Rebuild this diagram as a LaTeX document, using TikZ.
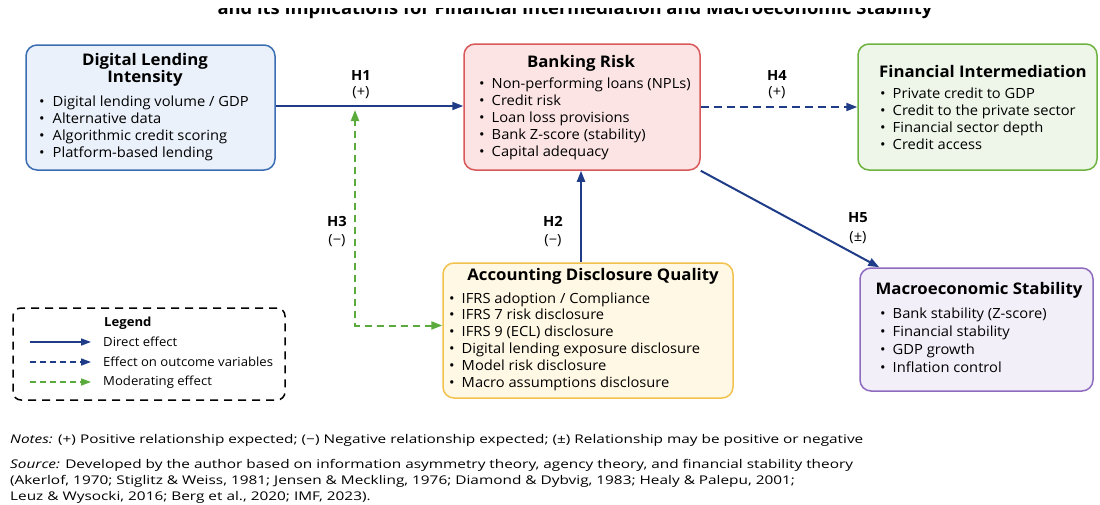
\documentclass[tikz,border=0pt]{standalone}
\usepackage{fontspec}
\setmainfont{Open Sans}[FakeStretch=1.05]
\newfontfamily\notefont{Open Sans}[FakeStretch=1.28]
\usetikzlibrary{arrows.meta,positioning,calc}
\definecolor{navy}{HTML}{1F3C88}
\definecolor{mgreen}{HTML}{5AAA3C}
\definecolor{dlifill}{HTML}{EAF1FB}
\definecolor{dliline}{HTML}{3B6DB3}
\definecolor{brfill}{HTML}{FCE4E4}
\definecolor{brline}{HTML}{D9585A}
\definecolor{fifill}{HTML}{EDF6E8}
\definecolor{filine}{HTML}{6DB33F}
\definecolor{adqfill}{HTML}{FFF8E4}
\definecolor{adqline}{HTML}{F2C14E}
\definecolor{msfill}{HTML}{F2EFF9}
\definecolor{msline}{HTML}{8E6BBF}
\tikzstyle{box}=[draw, rounded corners=11pt, line width=1.5pt, inner sep=0pt]
\tikzstyle{head}=[font=\fontsize{16}{17}\selectfont\bfseries, align=center, inner sep=0pt]
\tikzstyle{item}=[font=\fontsize{14}{16}\selectfont, anchor=base west, inner sep=0pt]
\tikzstyle{hyp}=[font=\fontsize{14}{16}\selectfont\bfseries, inner sep=0pt]
\tikzstyle{sign}=[font=\fontsize{14}{16}\selectfont, inner sep=0pt]
\tikzstyle{direct}=[line width=2pt, draw=navy, -{Triangle[length=11pt,width=8pt]}]
\tikzstyle{outcome}=[direct, dash pattern=on 8pt off 5pt]
\tikzstyle{moder}=[line width=2pt, draw=mgreen, dash pattern=on 7pt off 5pt, {Triangle[length=11pt,width=8pt]}-{Triangle[length=11pt,width=8pt]}]
\tikzstyle{legtext}=[font=\fontsize{12.5}{14}\selectfont, anchor=west, inner sep=0pt]
\tikzstyle{note}=[font=\notefont\fontsize{12}{14}\selectfont, anchor=base west, inner sep=0pt]

\begin{document}
\begin{tikzpicture}[x=1pt,y=-1pt]
    \useasboundingbox[fill=white] (0,0) rectangle (1100,504);

    % cut-off title
    \begin{scope}
        \clip (0,8) rectangle (1100,20);
        \node[font=\fontsize{17.5}{19}\selectfont\bfseries, anchor=base, inner sep=0pt] (title) at (575,14)
            {and its Implications for Financial Intermediation and Macroeconomic Stability};
    \end{scope}

    % boxes
    \node[box, draw=dliline, fill=dlifill, minimum width=249pt, minimum height=125pt] (dli) at (150.5,107.5) {};
    \node[box, draw=brline, fill=brfill, minimum width=236pt, minimum height=126pt] (br) at (582,107) {};
    \node[box, draw=filine, fill=fifill, minimum width=239pt, minimum height=126pt] (fi) at (977.5,107) {};
    \node[box, draw=adqline, fill=adqfill, minimum width=290pt, minimum height=135pt] (adq) at (588,330.5) {};
    \node[box, draw=msline, fill=msfill, minimum width=233pt, minimum height=123pt] (ms) at (976.5,329.5) {};

    \node[head] (dlih) at (145,70) {Digital Lending\\Intensity};
    \node[head] (brh) at (581,63) {Banking Risk};
    \node[head] (fih) at (983,71) {Financial Intermediation};
    \node[head] (adqh) at (593,276) {Accounting Disclosure Quality};
    \node[head] (msh) at (979,290) {Macroeconomic Stability};

    \foreach \t [count=\i] in {Digital lending volume / GDP, Alternative data, Algorithmic credit scoring, Platform-based lending}
        \node[item] (dli\i) at (39,106+17*\i-17) {\textbullet\hspace{8pt}\t};
    \foreach \t [count=\i] in {Non-performing loans (NPLs), Credit risk, Loan loss provisions, Bank Z-score (stability), Capital adequacy}
        \node[item] (br\i) at (479,88+17*\i-17) {\textbullet\hspace{7pt}\t};
    \foreach \t [count=\i] in {Private credit to GDP, Credit to the private sector, Financial sector depth, Credit access}
        \node[item] (fi\i) at (880,98+17.3*\i-17.3) {\textbullet\hspace{7pt}\t};
    \foreach \t [count=\i] in {IFRS adoption / Compliance, IFRS 7 risk disclosure, IFRS 9 (ECL) disclosure, Digital lending exposure disclosure, Model risk disclosure, Macro assumptions disclosure}
        \node[item] (adq\i) at (449,303+16.8*\i-16.8) {\textbullet\hspace{7pt}\t};
    \foreach \t [count=\i] in {Bank stability (Z-score), Financial stability, GDP growth, Inflation control}
        \node[item] (ms\i) at (880,318+18*\i-18) {\textbullet\hspace{7pt}\t};

    % hypotheses
    \coordinate (h1mod) at (355,110);
    \draw[direct] (dli.east |- 0,106) -- (br.west |- 0,106);
    \draw[outcome] (br.east |- 0,107) -- (fi.west |- 0,107);
    \draw[direct] (br.south east) -- ([xshift=20pt]ms.north west);
    \draw[direct] (adq.north -| 581,0) -- (br.south -| 581,0);
    \draw[moder] ([yshift=5pt]adq.west) -| (h1mod);

    \node[hyp] (h1) at (361,75) {H1};
    \node[sign] (h1s) at (361,93) {(+)};
    \node[hyp] (h4) at (777,75) {H4};
    \node[sign] (h4s) at (777,93) {(+)};
    \node[hyp] (h3) at (337,221) {H3};
    \node[sign] (h3s) at (337,241) {(−)};
    \node[hyp] (h2) at (553,221) {H2};
    \node[sign] (h2s) at (553,241) {(−)};
    \node[hyp] (h5) at (858,218) {H5};
    \node[sign] (h5s) at (858,238) {(±)};

    % legend
    \node[draw, line width=1.5pt, dash pattern=on 8pt off 6pt, rounded corners=8pt, minimum width=272pt, minimum height=92pt] (leg) at (149,354) {};
    \node[legtext, font=\fontsize{12.5}{14}\selectfont\bfseries] (legh) at (104,323) {Legend};
    \coordinate (l1a) at (30,342);
    \coordinate (l2a) at (30,362);
    \coordinate (l3a) at (30,382);
    \node[legtext] (l1) at (103,342) {Direct effect};
    \node[legtext] (l2) at (103,362) {Effect on outcome variables};
    \node[legtext] (l3) at (103,382) {Moderating effect};
    \draw[direct, line width=1.5pt, -{Triangle[length=10pt,width=7pt]}] (l1a) -- ([xshift=-12pt]l1.west);
    \draw[outcome, line width=1.5pt, dash pattern=on 6pt off 4pt, -{Triangle[length=10pt,width=7pt]}] (l2a) -- ([xshift=-12pt]l2.west);
    \draw[line width=1.5pt, draw=mgreen, dash pattern=on 6pt off 4pt, -{Triangle[length=10pt,width=7pt]}] (l3a) -- ([xshift=-12pt]l3.west);

    % notes and source
    \node[note] (notes) at (10,443) {\textit{Notes:} (+) Positive relationship expected; (−) Negative relationship expected; (±) Relationship may be positive or negative};
    \node[note] (src1) at (10,468) {\textit{Source:} Developed by the author based on information asymmetry theory, agency theory, and financial stability theory};
    \node[note] (src2) at (10,484) {(Akerlof, 1970; Stiglitz \& Weiss, 1981; Jensen \& Meckling, 1976; Diamond \& Dybvig, 1983; Healy \& Palepu, 2001;};
    \node[note] (src3) at (10,500) {Leuz \& Wysocki, 2016; Berg et al., 2020; IMF, 2023).};
\end{tikzpicture}
\end{document}
